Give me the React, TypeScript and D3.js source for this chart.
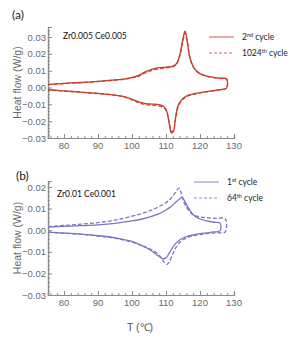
import React, { useEffect, useRef } from "react";
import * as d3 from "d3";

// panel (a): Zr0.005 Ce0.005
const heatTempA = [75.3, 80, 85, 90, 95, 98, 100, 102, 104, 106, 108, 110, 112, 113, 114, 115, 115.6, 116.3, 117, 118, 119, 120, 122, 124, 126, 127.8];
const heatA2 = [0.0018, 0.0025, 0.003, 0.0037, 0.0045, 0.0052, 0.006, 0.0072, 0.0095, 0.011, 0.0118, 0.0122, 0.0128, 0.014, 0.019, 0.029, 0.0335, 0.027, 0.018, 0.0125, 0.0098, 0.0083, 0.0068, 0.006, 0.0055, 0.0052];
const heatA1024 = [0.0017, 0.0024, 0.0029, 0.0036, 0.0044, 0.005, 0.0057, 0.0068, 0.0088, 0.0102, 0.0112, 0.0117, 0.0124, 0.0136, 0.0185, 0.028, 0.0325, 0.0265, 0.0178, 0.0124, 0.0097, 0.0082, 0.0067, 0.0059, 0.0054, 0.0051];
const coolTempA = [127.8, 126, 124, 122, 120, 118, 116, 114.5, 113.5, 112.8, 112.2, 111.6, 111, 110.3, 109.5, 108, 106, 104, 102, 100, 98, 95, 90, 85, 80, 75.3];
const coolA2 = [-0.0003, -0.0012, -0.0018, -0.0024, -0.003, -0.0038, -0.005, -0.0075, -0.011, -0.018, -0.026, -0.027, -0.022, -0.0145, -0.0115, -0.0102, -0.0098, -0.0095, -0.0085, -0.007, -0.0055, -0.0045, -0.0035, -0.0027, -0.002, -0.0013];
const coolA1024 = [-0.0004, -0.0013, -0.0019, -0.0025, -0.0032, -0.004, -0.0054, -0.008, -0.0118, -0.019, -0.0255, -0.0262, -0.0215, -0.015, -0.0122, -0.011, -0.0105, -0.0101, -0.009, -0.0073, -0.0057, -0.0046, -0.0036, -0.0028, -0.0021, -0.0014];

// panel (b): Zr0.01 Ce0.001
const heatTempB1 = [75.3, 80, 85, 90, 95, 100, 103, 106, 108, 110, 111.5, 113, 114, 114.7, 115.5, 116.5, 118, 120, 122, 124, 125.9];
const heatB1 = [0.0015, 0.0018, 0.0021, 0.0025, 0.0032, 0.0043, 0.0052, 0.0065, 0.0077, 0.0094, 0.011, 0.0132, 0.0145, 0.0152, 0.0135, 0.0105, 0.0072, 0.0052, 0.0043, 0.0037, 0.0033];
const coolTempB1 = [125.9, 124, 122, 120, 118, 116, 114, 112.5, 111, 110, 109, 108, 107, 105, 103, 100, 95, 90, 85, 80, 75.3];
const coolB1 = [-0.0003, -0.0008, -0.0012, -0.0016, -0.0022, -0.003, -0.0045, -0.0068, -0.0105, -0.0128, -0.0132, -0.0122, -0.011, -0.0088, -0.0072, -0.0052, -0.0035, -0.0025, -0.0018, -0.0013, -0.0009];
const heatTempB64 = [75.3, 80, 85, 90, 95, 100, 103, 106, 108, 110, 111.5, 112.8, 113.8, 114.5, 115.3, 116.5, 118, 120, 122, 125, 127.4];
const heatB64 = [0.0017, 0.0022, 0.0028, 0.0035, 0.0047, 0.0065, 0.0078, 0.0095, 0.011, 0.0128, 0.0148, 0.0175, 0.0195, 0.017, 0.0128, 0.0095, 0.0072, 0.0062, 0.0058, 0.0055, 0.0053];
const coolTempB64 = [127.4, 125, 122, 120, 118, 116, 114.5, 113, 112, 111, 110.3, 109.5, 108.5, 107, 105, 103, 100, 95, 90, 85, 80, 75.3];
const coolB64 = [-0.0008, -0.0012, -0.0016, -0.002, -0.0026, -0.0036, -0.005, -0.0078, -0.011, -0.0145, -0.0158, -0.0148, -0.0125, -0.0102, -0.0085, -0.0072, -0.0055, -0.0037, -0.0027, -0.0019, -0.0014, -0.001];

const xTicks = [80, 90, 100, 110, 120, 130];
const yTicksA = [-0.03, -0.02, -0.01, 0, 0.01, 0.02, 0.03];
const yTicksB = [-0.03, -0.02, -0.01, 0, 0.01, 0.02];

const RED = "#c8402e";
const BLUE = "#7977c2";
const AXIS = "#8a8a8a";
const LABEL = "#6a6a6a";

type Panel = {
  tag: string;
  sample: string;
  yDomain: [number, number];
  yRange: [number, number];
  yTicks: number[];
  color: string;
  series: { temps: number[]; vals: number[]; coolTemps: number[]; coolVals: number[]; dashed: boolean }[];
  legend: { base: string; sup: string; rest: string; dashed: boolean }[];
  legendX: number;
  legendY: number;
  tagPos: [number, number];
  samplePos: [number, number];
};

const panels: Panel[] = [
  {
    tag: "(a)",
    sample: "Zr0.005 Ce0.005",
    yDomain: [-0.03, 0.036],
    yRange: [138, 27],
    yTicks: yTicksA,
    color: RED,
    series: [
      { temps: heatTempA, vals: heatA1024, coolTemps: coolTempA, coolVals: coolA1024, dashed: true },
      { temps: heatTempA, vals: heatA2, coolTemps: coolTempA, coolVals: coolA2, dashed: false },
    ],
    legend: [
      { base: "2", sup: "nd", rest: " cycle", dashed: false },
      { base: "1024", sup: "th", rest: " cycle", dashed: true },
    ],
    legendX: 209,
    legendY: 37,
    tagPos: [12, 19],
    samplePos: [63, 39],
  },
  {
    tag: "(b)",
    sample: "Zr0.01 Ce0.001",
    yDomain: [-0.03, 0.0228],
    yRange: [295, 181],
    yTicks: yTicksB,
    color: BLUE,
    series: [
      { temps: heatTempB64, vals: heatB64, coolTemps: coolTempB64, coolVals: coolB64, dashed: true },
      { temps: heatTempB1, vals: heatB1, coolTemps: coolTempB1, coolVals: coolB1, dashed: false },
    ],
    legend: [
      { base: "1", sup: "st", rest: " cycle", dashed: false },
      { base: "64", sup: "th", rest: " cycle", dashed: true },
    ],
    legendX: 194,
    legendY: 182,
    tagPos: [16, 180],
    samplePos: [57, 197],
  },
];

const App: React.FC = () => {
  const svgRef = useRef<SVGSVGElement | null>(null);

  useEffect(() => {
    if (!svgRef.current) return;
    const svg = d3.select(svgRef.current);
    svg.selectAll("*").remove();

    const x = d3.scaleLinear().domain([75.3, 130]).range([48, 234]);
    const sans = "'Liberation Sans', Arial, sans-serif";
    const calibri = "Lato, 'Open Sans', sans-serif";

    panels.forEach((p) => {
      const y = d3.scaleLinear().domain(p.yDomain).range(p.yRange);
      const g = svg.append("g");
      const bottom = p.yRange[0];

      // x axis: minor + major ticks pointing inward
      const xa = g.append("g").attr("transform", `translate(0,${bottom})`);
      xa.call(
        d3.axisTop(x).tickValues(d3.range(76, 130.1, 2)).tickSize(2).tickFormat(() => "")
      );
      xa.append("g").call(d3.axisTop(x).tickValues(xTicks).tickSize(4).tickFormat(() => ""));
      xa.selectAll("path,line").attr("stroke", AXIS);
      xa.selectAll("path").attr("stroke-width", 1.2);

      g.selectAll(".xl")
        .data(xTicks)
        .enter()
        .append("text")
        .attr("x", (d) => x(d))
        .attr("y", bottom + 11)
        .attr("text-anchor", "middle")
        .attr("font-family", sans)
        .attr("font-size", 9.5)
        .attr("fill", LABEL)
        .text((d) => d);

      // y axis
      const ya = g.append("g").attr("transform", `translate(${x.range()[0]},0)`);
      ya.call(
        d3.axisRight(y).tickValues(d3.range(-0.03, p.yDomain[1] + 1e-9, 0.002)).tickSize(2).tickFormat(() => "")
      );
      ya.append("g").call(d3.axisRight(y).tickValues(p.yTicks).tickSize(4).tickFormat(() => ""));
      ya.selectAll("path,line").attr("stroke", AXIS);
      ya.selectAll("path").attr("stroke-width", 1.2);

      g.selectAll(".yl")
        .data(p.yTicks)
        .enter()
        .append("text")
        .attr("x", x.range()[0] - 2)
        .attr("y", (d) => y(d) + 3.5)
        .attr("text-anchor", "end")
        .attr("font-family", sans)
        .attr("font-size", 9.5)
        .attr("fill", LABEL)
        .text((d) => d3.format(".2f")(d));

      const midY = (p.yRange[0] + p.yRange[1]) / 2;
      g.append("text")
        .attr("transform", `translate(21,${midY}) rotate(-90)`)
        .attr("text-anchor", "middle")
        .attr("font-family", sans)
        .attr("font-size", 10.5)
        .attr("fill", LABEL)
        .text("Heat flow (W/g)");

      g.append("text")
        .attr("x", p.tagPos[0])
        .attr("y", p.tagPos[1])
        .attr("font-family", calibri)
        .attr("font-size", 12)
        .attr("fill", "#222")
        .text(p.tag);

      g.append("text")
        .attr("x", p.samplePos[0])
        .attr("y", p.samplePos[1])
        .attr("font-family", calibri)
        .attr("font-size", 8.5)
        .attr("fill", "#111")
        .text(p.sample);

      // curves: heating branch then cooling branch as one loop
      const line = d3
        .line<[number, number]>()
        .x((d) => x(d[0]))
        .y((d) => y(d[1]))
        .curve(d3.curveCatmullRom.alpha(0.5));

      p.series.forEach((s) => {
        const pts: [number, number][] = [
          ...s.temps.map((t, i) => [t, s.vals[i]] as [number, number]),
          ...s.coolTemps.map((t, i) => [t, s.coolVals[i]] as [number, number]),
        ];
        g.append("path")
          .attr("d", line(pts) || "")
          .attr("fill", "none")
          .attr("stroke", p.color)
          .attr("stroke-width", 1.3)
          .attr("stroke-dasharray", s.dashed ? "4,2" : null);
      });

      // legend
      p.legend.forEach((l, i) => {
        const ly = p.legendY + i * 16;
        g.append("line")
          .attr("x1", p.legendX)
          .attr("x2", p.legendX + 25)
          .attr("y1", ly)
          .attr("y2", ly)
          .attr("stroke", p.color)
          .attr("stroke-opacity", 0.8)
          .attr("stroke-width", 1.1)
          .attr("stroke-dasharray", l.dashed ? "3,2" : null);
        const t = g
          .append("text")
          .attr("x", p.legendX + 33)
          .attr("y", ly + 3)
          .attr("font-family", calibri)
          .attr("font-size", 8.5)
          .attr("fill", "#222");
        t.append("tspan").text(l.base);
        t.append("tspan").attr("dy", -3).attr("font-size", 5.5).text(l.sup);
        t.append("tspan").attr("dy", 3).text(l.rest);
      });
    });

    svg
      .append("text")
      .attr("x", 140)
      .attr("y", 331)
      .attr("text-anchor", "middle")
      .attr("font-family", sans)
      .attr("font-size", 10.5)
      .attr("fill", "#555")
      .text("T (\u2103)");
  }, []);

  return (
    <svg
      ref={svgRef}
      width={291}
      height={341}
      style={{ position: "absolute", left: 0, top: 0, background: "#fff" }}
    />
  );
};

export default App;
